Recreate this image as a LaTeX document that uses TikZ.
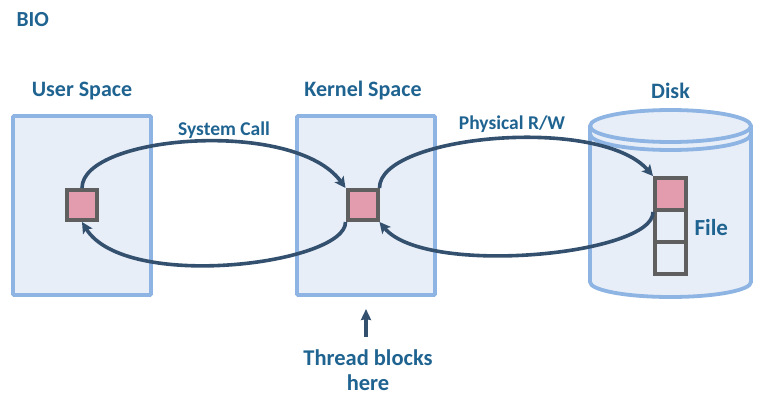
\documentclass[tikz,border=0pt]{standalone}
\usepackage{fontspec}
\setmainfont{Carlito}
\usetikzlibrary{arrows.meta}
\definecolor{txtblue}{HTML}{1F6391}
\definecolor{boxfill}{HTML}{E8EEF8}
\definecolor{boxline}{HTML}{8DB4E2}
\definecolor{arr}{HTML}{34506F}
\definecolor{blk}{HTML}{E29CAE}
\definecolor{blkline}{HTML}{5F5F5F}
\tikzset{
  space/.style={draw=boxline,fill=boxfill,line width=3.8pt,rounded corners=1pt,inner sep=0pt,minimum width=138pt,minimum height=179pt},
  lbl/.style={text=txtblue,font=\bfseries\fontsize{22}{24}\selectfont},
  small/.style={text=txtblue,font=\bfseries\fontsize{19.5}{21}\selectfont},
  cell/.style={draw=blkline,line width=4pt,minimum width=30pt,minimum height=30pt,inner sep=0pt},
  flow/.style={draw=arr,line width=3.6pt,-{Stealth[length=11pt,width=11pt,inset=2.5pt]}},
}
\begin{document}
\begin{tikzpicture}[x=1pt,y=-1pt]
\useasboundingbox (0,0) rectangle (762,401);
\node[lbl,anchor=west,font=\bfseries\fontsize{21.5}{23}\selectfont] (bio) at (13,20) {BIO};
% boxes
\node[space] (user) at (82,205.5) {};
\node[space] (kern) at (366,205.5) {};
\node[lbl] (ul) at (82,91) {User Space};
\node[lbl] (kl) at (363,91) {Kernel Space};
\node[lbl] (dl) at (670.5,91) {Disk};
% disk cylinder
\path[draw=boxline,fill=boxfill,line width=3.8pt]
  (590,126) -- (590,282) arc[start angle=180,end angle=0,x radius=80.5,y radius=15] -- (751,126)
  arc[start angle=0,end angle=-180,x radius=80.5,y radius=16] -- cycle;
\draw[boxline,line width=3.8pt] (590,126) arc[start angle=180,end angle=0,x radius=80.5,y radius=16];
\draw[boxline,line width=3.8pt] (590,134) arc[start angle=180,end angle=0,x radius=80.5,y radius=16];
% cells
\node[cell,fill=blk] (us) at (82,205) {};
\node[cell,fill=blk] (ks) at (362.5,205) {};
\node[cell,fill=blk,minimum width=31pt,minimum height=32pt] (f1) at (670.5,194) {};
\node[cell,fill=boxfill,minimum width=31pt,minimum height=32pt] (f2) at (670.5,226) {};
\node[cell,fill=boxfill,minimum width=31pt,minimum height=32pt] (f3) at (670.5,258) {};
\node[lbl,anchor=west,font=\bfseries\fontsize{23}{25}\selectfont] (fl) at (691,228) {File};
% flows
\draw[flow] (us.north) .. controls (82,135) and (295,118) .. (ks.north west);
\draw[flow] (ks.south west) .. controls (346,264) and (125,292) .. (us.south);
\draw[flow] (ks.north east) .. controls (379,135) and (600,115) .. (f1.north west);
\draw[flow] (f1.south west) .. controls (654,255) and (425,277) .. (ks.south east);
\node[small] (sc) at (224,130) {System Call};
\node[small] (pr) at (512,124) {Physical R/W};
% thread
\node[lbl,align=center,font=\bfseries\fontsize{22.5}{25}\selectfont] (th) at (368,370) {Thread blocks\\here};
\coordinate (tha) at (366,309);
\draw[flow,-{Stealth[length=11pt,width=10pt,inset=1pt]}] (366,337) -- (tha);
\end{tikzpicture}
\end{document}
